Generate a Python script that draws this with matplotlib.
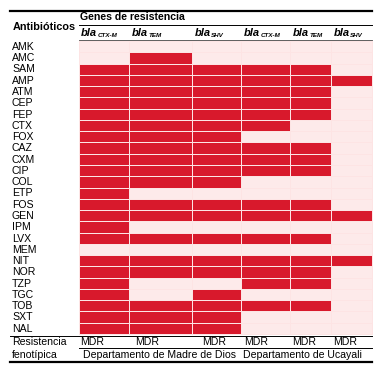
import matplotlib
matplotlib.use("Agg")
import matplotlib.pyplot as plt
import numpy as np
from matplotlib.colors import ListedColormap

plt.rcParams["font.family"] = ["Liberation Sans", "DejaVu Sans"]

antibiotics = ["AMK", "AMC", "SAM", "AMP", "ATM", "CEP", "FEP", "CTX", "FOX",
               "CAZ", "CXM", "CIP", "COL", "ETP", "FOS", "GEN", "IPM", "LVX",
               "MEM", "NIT", "NOR", "TZP", "TGC", "TOB", "SXT", "NAL"]
genes = ["CTX-M", "TEM", "SHV", "CTX-M", "TEM", "SHV"]
departments = ["Departamento de Madre de Dios", "Departamento de Ucayali"]
phenotype = ["MDR", "MDR", "MDR", "MDR", "MDR", "MDR"]

# 1 = gene detected in isolates resistant to the antibiotic
presence = np.array([
    [0, 0, 0, 0, 0, 0],  # AMK
    [0, 1, 0, 0, 0, 0],  # AMC
    [1, 1, 1, 1, 1, 0],  # SAM
    [1, 1, 1, 1, 1, 1],  # AMP
    [1, 1, 1, 1, 1, 0],  # ATM
    [1, 1, 1, 1, 1, 0],  # CEP
    [1, 1, 1, 1, 1, 0],  # FEP
    [1, 1, 1, 1, 0, 0],  # CTX
    [1, 1, 1, 0, 0, 0],  # FOX
    [1, 1, 1, 1, 1, 0],  # CAZ
    [1, 1, 1, 1, 1, 0],  # CXM
    [1, 1, 1, 1, 1, 0],  # CIP
    [1, 1, 1, 0, 0, 0],  # COL
    [1, 0, 0, 0, 0, 0],  # ETP
    [1, 1, 1, 1, 1, 0],  # FOS
    [1, 1, 1, 1, 1, 1],  # GEN
    [1, 0, 0, 0, 0, 0],  # IPM
    [1, 1, 1, 1, 1, 0],  # LVX
    [0, 0, 0, 0, 0, 0],  # MEM
    [1, 1, 1, 1, 1, 1],  # NIT
    [1, 1, 1, 1, 1, 0],  # NOR
    [1, 0, 0, 1, 1, 0],  # TZP
    [1, 0, 1, 0, 0, 0],  # TGC
    [1, 1, 1, 1, 1, 0],  # TOB
    [1, 1, 1, 0, 0, 0],  # SXT
    [1, 1, 1, 0, 0, 0],  # NAL
])

# layout (pixel coordinates of the 388x372 canvas)
col_edges = np.array([78.5, 129, 192, 241, 290, 331, 371.5])
top, bottom = 41.0, 334.0
row_edges = np.linspace(top, bottom, len(antibiotics) + 1)
x_left = 10
RED = "#d8192c"
PALE = "#fdeaea"

fig = plt.figure(figsize=(3.88, 3.72), dpi=100)
ax = fig.add_axes([0, 0, 1, 1])
ax.set_xlim(0, 388)
ax.set_ylim(372, 0)
ax.axis("off")

ax.pcolormesh(col_edges, row_edges, presence, cmap=ListedColormap([PALE, RED]),
              vmin=0, vmax=1, edgecolor="#fde4e4", linewidth=0.55)

# rules
ax.plot([x_left, 371.5], [11, 11], color="black", lw=1.6)
ax.plot([78.5, 371.5], [24.5, 24.5], color="black", lw=0.7)
ax.plot([78.5, 371.5], [40.2, 40.2], color="#444444", lw=0.6)
ax.plot([x_left, 371.5], [335.5, 335.5], color="black", lw=0.7)
ax.plot([78.5, 371.5], [348, 348], color="black", lw=0.7)
ax.plot([x_left, 371.5], [362, 362], color="black", lw=1.6)

ax.text(12.5, 26.5, "Antibióticos", fontsize=7.8, fontweight="bold", va="center")
ax.text(80.5, 17.5, "Genes de resistencia", fontsize=7.6, fontweight="bold", va="center")

for i, name in enumerate(antibiotics):
    yc = (row_edges[i] + row_edges[i + 1]) / 2
    ax.text(12, yc + 0.3, name, fontsize=7.6, va="center")

fig.canvas.draw()
renderer = fig.canvas.get_renderer()
inv = ax.transData.inverted()
for j, g in enumerate(genes):
    t = ax.text(col_edges[j] + 2.5, 32.5, "bla", fontsize=8.0, fontweight="bold",
                fontstyle="italic", va="center")
    bb = t.get_window_extent(renderer)
    x_end = inv.transform((bb.x1, bb.y0))[0]
    ax.text(x_end + 0.6, 35.8, g, fontsize=4.5, fontweight="bold",
            fontstyle="italic", va="center")

mdr_x = [80, 135, 202, 244, 292, 333]
for x, lab in zip(mdr_x, phenotype):
    ax.text(x, 341.8, lab, fontsize=7.6, va="center")
ax.text(12, 341.8, "Resistencia", fontsize=7.6, va="center")
ax.text(12, 355, "fenotípica", fontsize=7.6, va="center")
ax.text(83, 355, departments[0], fontsize=7.6, va="center")
ax.text(243, 355, departments[1], fontsize=7.6, va="center")

fig.savefig("out.png", dpi=100, facecolor="white")
